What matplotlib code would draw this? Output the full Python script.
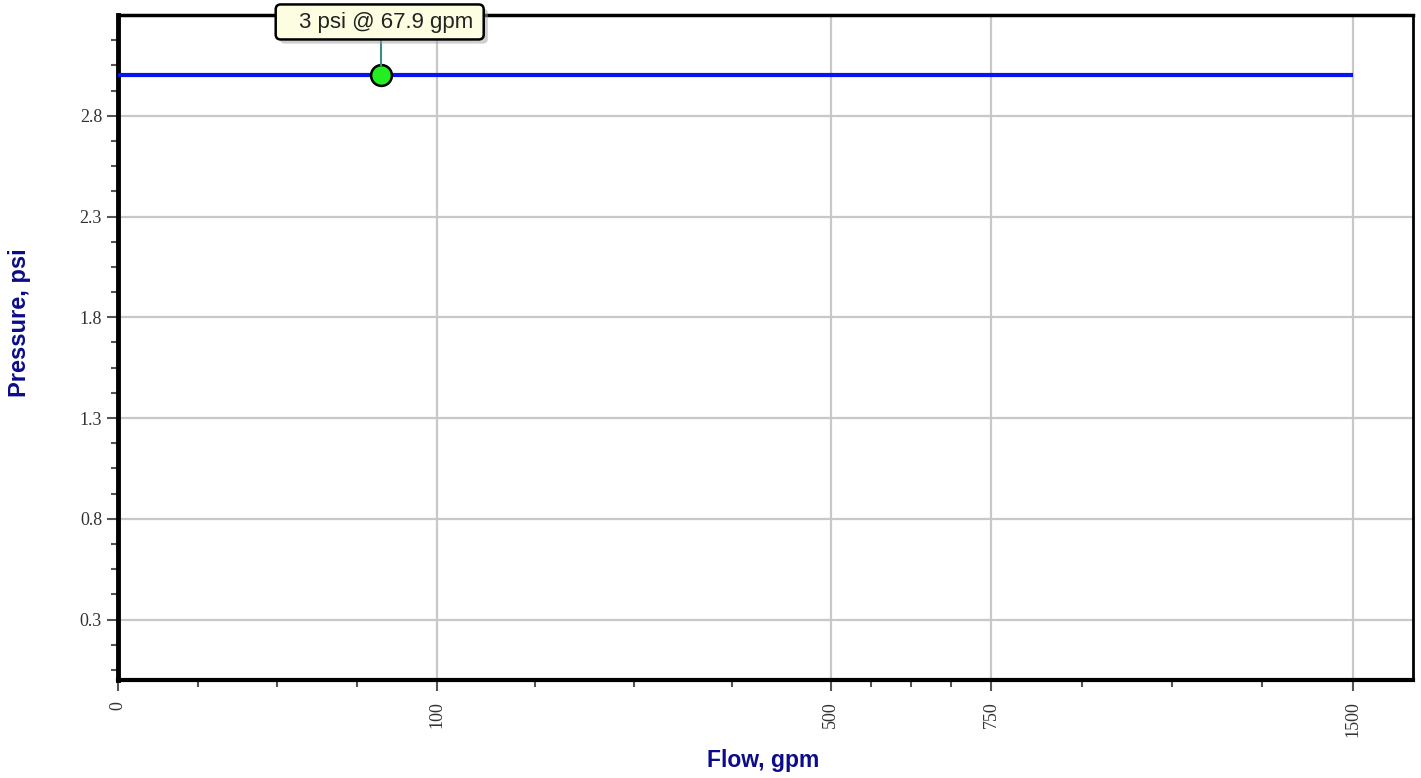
import numpy as np
import matplotlib
matplotlib.use("Agg")
import matplotlib.pyplot as plt
import matplotlib.patheffects as pe
import matplotlib.transforms as mtransforms
from matplotlib.patches import FancyBboxPatch

# Data
flow = [0, 1500]
pressure = [3.0, 3.0]
point_flow = 67.9
point_pressure = 3.0
x_major = [0, 100, 500, 750, 1500]
y_major = [0.3, 0.8, 1.3, 1.8, 2.3, 2.8]
annotation = "3 psi @ 67.9 gpm"

W, H = 1421, 778
L, R, T, B = 118, 1413, 15, 680
fig = plt.figure(figsize=(W/100, H/100), dpi=100)
ax = fig.add_axes([L/W, 1-B/H, (R-L)/W, (B-T)/H])

fwd = lambda x: np.sqrt(np.clip(x, 0, None))
inv = lambda x: np.square(x)
ax.set_xscale('function', functions=(fwd, inv))
ax.set_xlim(0, 1650)
ax.set_ylim(0, 3.3)

ax.plot(flow, pressure, color='#0a14f0', lw=3, solid_capstyle='butt', zorder=3)
ax.plot([point_flow], [point_pressure], 'o', ms=15, mfc='#22ee22', mec='black', mew=1.8, zorder=5)

# annotation callout, positioned in inches relative to the data point
trans = fig.dpi_scale_trans + mtransforms.ScaledTranslation(point_flow, point_pressure, ax.transData)
ax.plot([0, 0], [0.10, 0.36], color='#3a8c8c', lw=1.5, transform=trans, zorder=9, clip_on=False)
box = FancyBboxPatch((-1.05, 0.36), 2.08, 0.35, boxstyle='round,pad=0,rounding_size=0.05',
                     fc='#fdfde2', ec='black', lw=1.8, transform=trans, zorder=10, clip_on=False)
box.set_path_effects([pe.SimplePatchShadow(offset=(3, -3), shadow_rgbFace='#a0a0a0', alpha=0.5), pe.Normal()])
ax.add_patch(box)
ax.text(0.05, 0.47, annotation, transform=trans, ha='center', va='baseline', fontsize=16,
        family='Liberation Sans', color='#222222', zorder=11, clip_on=False)

# ticks
ax.set_xticks(x_major)
ax.set_xticklabels([str(v) for v in x_major])
minor_x = []
for a, b in zip(x_major[:-1], x_major[1:]):
    sa, sb = np.sqrt(a), np.sqrt(b)
    for k in (1, 2, 3):
        minor_x.append((sa + (sb - sa) * k / 4) ** 2)
ax.set_xticks(minor_x, minor=True)

ax.set_yticks(y_major)
ax.set_yticklabels([f"{v:.1f}" for v in y_major])
step = (y_major[1] - y_major[0]) / 4
minor_y = [v for v in np.arange(y_major[0] - 3*step, 3.3, step) if v > 0 and all(abs(v - m) > 1e-6 for m in y_major)]
ax.set_yticks(minor_y, minor=True)

for lbl in ax.get_xticklabels():
    lbl.set_rotation(90)
    lbl.set_va('top')
ax.tick_params(axis='both', which='major', direction='out', length=8, width=1.5, color='#555555',
               labelsize=13, labelcolor='#333333')
ax.tick_params(axis='both', which='minor', direction='out', length=5, width=1.5, color='#555555')
ax.tick_params(axis='x', which='major', pad=7)
for lbl in ax.get_xticklabels() + ax.get_yticklabels():
    lbl.set_family('Liberation Serif')

ax.grid(True, which='major', color='#c8c8c8', lw=1.6)
ax.set_axisbelow(True)

ax.spines['left'].set_linewidth(3.5)
ax.spines['bottom'].set_linewidth(3.0)
ax.spines['top'].set_linewidth(2.5)
ax.spines['right'].set_linewidth(2.0)

ax.set_xlabel('Flow, gpm', fontsize=16.5, fontweight='bold', color='#0c0c8a', family='Liberation Sans')
ax.set_ylabel('Pressure, psi', fontsize=17, fontweight='bold', color='#0c0c8a', family='Liberation Sans')
ax.yaxis.set_label_coords((20 - L)/(R - L), (B - 323)/(B - T))
ax.xaxis.set_label_coords((763 - L)/(R - L), (B - 760)/(B - T))
ax.yaxis.label.set_va('center')
ax.xaxis.label.set_va('center')

fig.savefig('out.png', dpi=100)
